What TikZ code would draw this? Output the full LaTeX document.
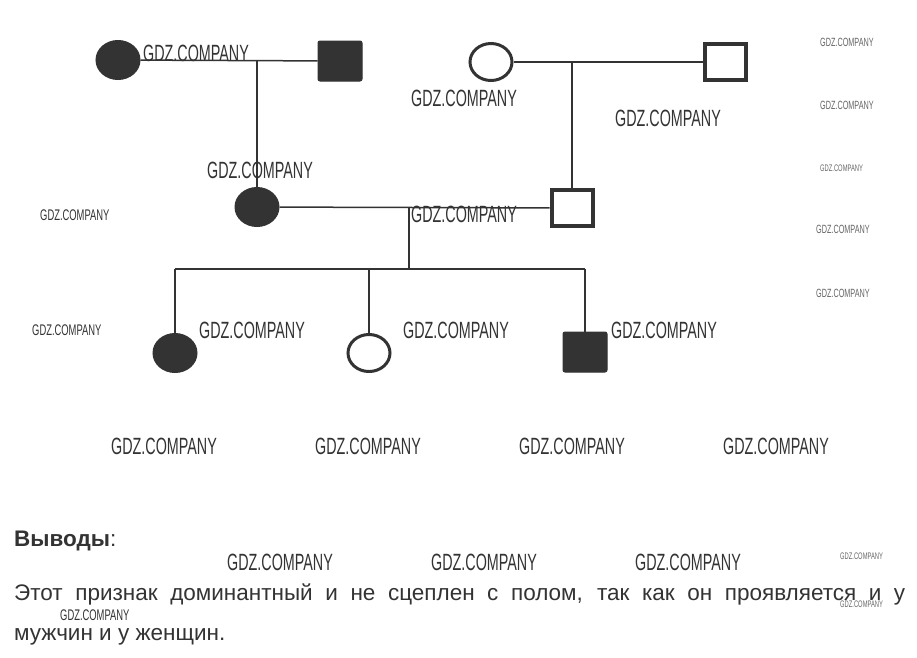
\documentclass[tikz,border=0pt]{standalone}
\usepackage{fontspec}
\setmainfont{Liberation Sans}
\newfontfamily\wmfont[FakeStretch=0.61]{Liberation Sans}
\usetikzlibrary{shapes.geometric}
\definecolor{ink}{HTML}{333333}
\definecolor{wmside}{HTML}{666666}
\tikzset{
  femfill/.style={ellipse, minimum width=44, minimum height=39, inner sep=0, fill=ink, draw=ink, line width=1},
  femopen/.style={ellipse, minimum width=42, minimum height=37, inner sep=0, draw=ink, line width=3},
  malefill/.style={rectangle, minimum width=44, minimum height=40, inner sep=0, fill=ink, draw=ink, line width=1, rounded corners=2},
  maleopen/.style={rectangle, minimum width=41, minimum height=36, inner sep=0, draw=ink, line width=4},
  link/.style={draw=ink, line width=1.5},
  wmL/.style={anchor=west, inner sep=0, text=ink, font=\wmfont\fontsize{23.5}{23.5}\selectfont},
  wmM/.style={anchor=west, inner sep=0, text=ink, font=\wmfont\fontsize{15.4}{15.4}\selectfont},
  wmS/.style={anchor=west, inner sep=0, text=wmside, font=\wmfont\fontsize{11.9}{11.9}\selectfont},
  wmT/.style={anchor=west, inner sep=0, text=wmside, font=\wmfont\fontsize{9.5}{9.5}\selectfont},
  body/.style={anchor=base west, inner sep=0, text=ink, font=\fontsize{22.5}{22.5}\selectfont}
}
\begin{document}
\begin{tikzpicture}[x=1pt,y=-1pt]
\useasboundingbox[fill=white] (0,0) rectangle (917,657);
% generation I
\node[femfill] (gm) at (118,60) {};
\node[malefill] (gf) at (340,61) {};
\node[femopen] (om) at (491,62) {};
\node[maleopen] (of) at (725,62) {};
% generation II
\node[femfill] (mo) at (257,207) {};
\node[maleopen] (fa) at (572,208) {};
% generation III
\node[femfill] (c1) at (175,353) {};
\node[femopen] (c2) at (369,353) {};
\node[malefill] (c3) at (585,352) {};
% connectors
\draw[link] (gm) -- (gf);
\draw[link] (mo.north |- gm) -- (mo.north);
\draw[link] (om) -- (of);
\draw[link] (fa.north |- om) -- (fa.north);
\draw[link] (mo) -- (fa);
\coordinate (br) at (409,269);
\draw[link] (br |- mo) -- (br);
\draw[link] (c1.north |- br) -- (c3.north |- br);
\draw[link] (c1.north |- br) -- (c1.north);
\draw[link] (c2.north |- br) -- (c2.north);
\draw[link] (c3.north |- br) -- (c3.north);
% watermarks
\foreach \x/\y [count=\i] in {143/53, 411/98, 615/118, 207/170, 411/214, 199/330, 403/330, 611/330, 111/446, 315/446, 519/446, 723/446, 227/562, 431/562, 635/562}
  \node[wmL] (wl\i) at (\x,\y) {GDZ.COMPANY};
\foreach \x/\y [count=\i] in {40/215, 32/330, 60/615}
  \node[wmM] (wm\i) at (\x,\y) {GDZ.COMPANY};
\foreach \x/\y [count=\i] in {820/42, 820/105, 816/229, 816/293}
  \node[wmS] (ws\i) at (\x,\y) {GDZ.COMPANY};
\foreach \x/\y [count=\i] in {820/168, 840/556, 840/604}
  \node[wmT] (wt\i) at (\x,\y) {GDZ.COMPANY};
% conclusion text
\node[body] (t0) at (14,546) {\textbf{Выводы}:};
\node[body] (t1) at (14,600) {\makebox[891pt][s]{Этот признак доминантный и не сцеплен с полом, так как он проявляется и у}};
\node[body] (t2) at (14,640) {мужчин и у женщин.};
\end{tikzpicture}
\end{document}
